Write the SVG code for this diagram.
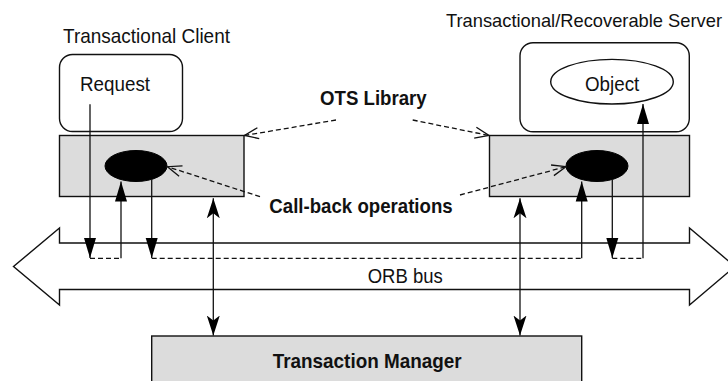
<svg xmlns="http://www.w3.org/2000/svg" width="728" height="381" viewBox="0 0 728 381">
  <style>
    text { font-family: "Liberation Sans", Arial, sans-serif; font-size: 21px; fill: #111; }
    .b { font-weight: bold; }
    .box { fill: #fff; stroke: #111; stroke-width: 1.4; }
    .lib { fill: #dcdcdc; stroke: #111; stroke-width: 1.4; }
    .cb { fill: #000; stroke: #000; stroke-width: 1; }
    .ln { fill: none; stroke: #111; stroke-width: 1.3; }
    .dash { fill: none; stroke: #111; stroke-width: 1.3; stroke-dasharray: 5 3; }
  </style>
  <defs>
    <marker id="tri" markerUnits="userSpaceOnUse" viewBox="0 -7 22 14" refX="20" refY="0" markerWidth="22" markerHeight="14" orient="auto">
      <path d="M0,-6 L20,0 L0,6 z" fill="#000"/>
    </marker>
    <marker id="stealth" markerUnits="userSpaceOnUse" viewBox="0 -7 22 14" refX="20" refY="0" markerWidth="22" markerHeight="14" orient="auto-start-reverse">
      <path d="M0,-6.5 L20,0 L0,6.5 L5,0 z" fill="#000"/>
    </marker>
    <marker id="open" markerUnits="userSpaceOnUse" viewBox="-1 -7 16 14" refX="14" refY="0" markerWidth="16" markerHeight="14" orient="auto">
      <path d="M0,-5.5 L14,0 L0,5.5" fill="none" stroke="#111" stroke-width="1.3"/>
    </marker>
  </defs>

  <!-- ORB bus: double-headed block arrow -->
  <g id="orb-bus">
    <polygon class="box" points="59.5,243 689.5,243 689.5,228 735,266.5 689.5,305 689.5,289.5 59.5,289.5 59.5,305 13.5,266.5 59.5,228"/>
    <text x="367.7" y="282.7" textLength="75" lengthAdjust="spacingAndGlyphs">ORB bus</text>
  </g>

  <!-- Transactional client -->
  <g id="client">
    <text x="63" y="43" textLength="167" lengthAdjust="spacingAndGlyphs">Transactional Client</text>
    <rect class="box" x="59.5" y="54.5" width="123" height="77" rx="13"/>
    <text x="80" y="90.7" textLength="70" lengthAdjust="spacingAndGlyphs">Request</text>
  </g>
  <g id="client-ots">
    <rect class="lib" x="59.5" y="135.5" width="184.5" height="61"/>
    <ellipse class="cb" cx="136" cy="166" rx="31" ry="15.5"/>
  </g>

  <!-- Transactional/recoverable server -->
  <g id="server">
    <text x="446" y="27.3" style="font-size:18.5px" textLength="276" lengthAdjust="spacingAndGlyphs">Transactional/Recoverable Server</text>
    <rect class="box" x="520" y="42.7" width="169.3" height="89" rx="13"/>
    <ellipse class="box" cx="612" cy="81.7" rx="61.3" ry="22.3"/>
    <text x="585" y="90.7" textLength="54.3" lengthAdjust="spacingAndGlyphs">Object</text>
  </g>
  <g id="server-ots">
    <rect class="lib" x="489.5" y="135.5" width="200" height="61"/>
    <ellipse class="cb" cx="597" cy="166" rx="31" ry="15.5"/>
  </g>

  <!-- Transaction manager -->
  <g id="transaction-manager">
    <rect class="lib" x="151.7" y="336" width="430" height="60"/>
    <text class="b" x="272.7" y="367.7" textLength="189" lengthAdjust="spacingAndGlyphs">Transaction Manager</text>
  </g>

  <!-- Labels -->
  <g id="labels">
    <text class="b" x="320" y="105" textLength="106.7" lengthAdjust="spacingAndGlyphs">OTS Library</text>
    <text class="b" x="269.3" y="212.7" textLength="183.4" lengthAdjust="spacingAndGlyphs">Call-back operations</text>
  </g>

  <!-- Connectors -->
  <g id="connectors">
    <!-- request path through the bus -->
    <line class="ln" x1="90" y1="104.3" x2="90" y2="258" marker-end="url(#tri)"/>
    <line class="dash" x1="90" y1="258.3" x2="121" y2="258.3"/>
    <line class="ln" x1="121" y1="258.3" x2="121" y2="181.5" marker-end="url(#tri)"/>
    <line class="ln" x1="151.7" y1="179.5" x2="151.7" y2="258" marker-end="url(#tri)"/>
    <line class="dash" x1="151.7" y1="258.3" x2="581.7" y2="258.3"/>
    <line class="ln" x1="581.7" y1="258.3" x2="581.7" y2="181.5" marker-end="url(#tri)"/>
    <line class="ln" x1="612.3" y1="179.5" x2="612.3" y2="258" marker-end="url(#tri)"/>
    <line class="dash" x1="612.3" y1="258.3" x2="643" y2="258.3"/>
    <line class="ln" x1="643" y1="258.3" x2="643" y2="104" marker-end="url(#tri)"/>

    <!-- OTS to transaction manager -->
    <line class="ln" x1="213.3" y1="198.3" x2="213.3" y2="335.5" marker-start="url(#stealth)" marker-end="url(#stealth)"/>
    <line class="ln" x1="520" y1="198.3" x2="520" y2="335.5" marker-start="url(#stealth)" marker-end="url(#stealth)"/>

    <!-- label pointers -->
    <line class="dash" x1="336" y1="120" x2="244.5" y2="135.5" marker-end="url(#open)"/>
    <line class="dash" x1="412.7" y1="120" x2="489" y2="135.5" marker-end="url(#open)"/>
    <line class="dash" x1="260" y1="196.7" x2="167.5" y2="166.7" marker-end="url(#open)"/>
    <line class="dash" x1="460" y1="195" x2="566" y2="166.7" marker-end="url(#open)"/>
  </g>
</svg>
